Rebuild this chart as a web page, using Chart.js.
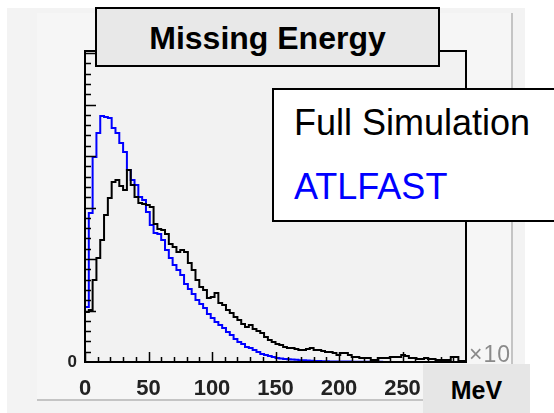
<!DOCTYPE html>
<html>
<head>
<meta charset="utf-8">
<script src="https://cdn.jsdelivr.net/npm/chart.js@4/dist/chart.umd.min.js"></script>
<style>
  body { margin: 0; background: #fff; }
  .stage { position: relative; width: 554px; height: 413px; overflow: hidden; font-family: "Liberation Sans", Arial, sans-serif; }
  .pad { position: absolute; left: 7px; top: 8px; width: 518px; height: 405px; background: #f3f3f3; }
  .inner { position: absolute; left: 37px; top: 13px; width: 474px; height: 386px; background: #f6f6f6;
           border-right: 2px solid #c4c4c4; border-bottom: 2px solid #c4c4c4; }
  canvas { position: absolute; left: 0; top: 0; }
  .title { position: absolute; left: 95px; top: 7px; width: 341px; height: 56px; background: #e8e8e8;
           border: 2px solid #000; font-weight: bold; font-size: 32px; text-align: center; line-height: 58px; }
  .legend { position: absolute; left: 272px; top: 88px; width: 290px; height: 130px; background: #fff; border: 2px solid #000; }
  .legend div { position: absolute; left: 20px; font-size: 36px; white-space: nowrap; }
  .unit { position: absolute; left: 423px; top: 364px; width: 107px; height: 49px; background: #e6e6e6;
          font-weight: bold; font-size: 25px; text-align: center; line-height: 52px; }
  .mult { position: absolute; left: 469px; top: 341px; font-size: 23px; color: #8a8a8a; letter-spacing: 1px; }
</style>
</head>
<body>
<div class="stage">
  <div class="pad"></div>
  <div class="inner"></div>
  <canvas id="chart" width="554" height="413"></canvas>
  <div class="title">Missing Energy</div>
  <div class="legend">
    <div style="top:12px;color:#000">Full Simulation</div>
    <div style="top:76px;color:#0000ff">ATLFAST</div>
  </div>
  <div class="mult">×10</div>
  <div class="unit">MeV</div>
</div>
<script>
// histogram: 100 bins of 3 (x10 MeV) from 0 to 300
const binWidth = 3;
const xTicks = [0, 50, 100, 150, 200, 250];

// Full Simulation (black)
const fullSim = [
  486, 505, 796, 1010, 1185, 1427, 1592, 1748, 1767, 1709,
  1670, 1864, 1719, 1602, 1544, 1534, 1524, 1505, 1340, 1291,
  1282, 1243, 1146, 1117, 1068, 1088, 1068, 961, 893, 796,
  728, 699, 621, 631, 670, 573, 553, 505, 476, 437,
  408, 369, 340, 359, 320, 301, 282, 243, 214, 194,
  175, 165, 146, 136, 136, 126, 117, 117, 126, 136,
  117, 117, 107, 97, 97, 87, 68, 87, 87, 68,
  49, 49, 39, 39, 39, 19, 19, 39, 39, 39,
  49, 49, 49, 68, 58, 39, 39, 29, 29, 39,
  29, 29, 19, 19, 19, 19, 49, 49, 10, 10
];

// ATLFAST (blue)
const atlfast = [
  534, 1447, 1990, 2224, 2389, 2379, 2369, 2272, 2224, 2126,
  2039, 1864, 1767, 1719, 1602, 1573, 1457, 1330, 1253, 1243,
  1185, 1088, 1010, 942, 893, 845, 757, 709, 660, 602,
  563, 524, 466, 427, 388, 359, 330, 291, 262, 223,
  194, 175, 146, 136, 117, 97, 78, 68, 58, 49,
  39, 34, 30, 27, 24, 21, 18, 16, 14, 12,
  10, 9, 8, 7, 6, 6, 5, 5, 4, 4,
  3, 3, 3, 2, 2, 2, 2, 2, 1, 1,
  1, 1, 1, 1, 1, 1, 1, 1, 0, 0,
  0, 0, 0, 0, 0, 0, 0, 0, 0, 0
];

// left bin edges plus closing point, drawn as steps
function toSteps(values) {
  const pts = [{ x: 0, y: 0 }];
  values.forEach((v, i) => pts.push({ x: i * binWidth, y: v }));
  pts.push({ x: values.length * binWidth, y: values[values.length - 1] });
  return pts;
}

// ROOT-like frame with inward ticks
const rootFrame = {
  id: "rootFrame",
  beforeDraw(chart) {
    const a = chart.chartArea, ctx = chart.ctx;
    ctx.save();
    ctx.fillStyle = "#f2f2f2";
    ctx.fillRect(a.left, a.top, a.right - a.left, a.bottom - a.top);
    ctx.restore();
  },
  afterDraw(chart) {
    const a = chart.chartArea, ctx = chart.ctx;
    const xs = chart.scales.x, ys = chart.scales.y;
    ctx.save();
    ctx.strokeStyle = "#000";
    ctx.lineWidth = 2;
    ctx.strokeRect(a.left, a.top, a.right - a.left, a.bottom - a.top);
    ctx.lineWidth = 1.5;
    ctx.beginPath();
    for (let v = 0; v < 300; v += 10) {
      const px = Math.round(xs.getPixelForValue(v)) + 0.5;
      const len = v % 50 === 0 ? 10 : 5;
      ctx.moveTo(px, a.bottom);
      ctx.lineTo(px, a.bottom - len);
    }
    for (let v = 100; v <= ys.max; v += 100) {
      const py = Math.round(ys.getPixelForValue(v)) + 0.5;
      const len = v % 500 === 0 ? 11 : 6;
      ctx.moveTo(a.left, py);
      ctx.lineTo(a.left + len, py);
    }
    ctx.stroke();
    ctx.restore();
  }
};

new Chart(document.getElementById("chart"), {
  type: "line",
  data: {
    datasets: [
      {
        label: "Full Simulation",
        data: toSteps(fullSim),
        borderColor: "#000000",
        borderWidth: 2,
        stepped: true,
        pointRadius: 0,
        fill: false,
      },
      {
        label: "ATLFAST",
        data: toSteps(atlfast),
        borderColor: "#0000ff",
        borderWidth: 2,
        stepped: true,
        pointRadius: 0,
        fill: false,
      },
    ],
  },
  options: {
    responsive: false,
    animation: false,
    layout: { padding: { top: 51, right: 88, left: 0, bottom: 0 } },
    plugins: {
      legend: { display: false },
      tooltip: { enabled: false },
    },
    scales: {
      x: {
        type: "linear",
        min: 0,
        max: 300,
        afterBuildTicks: (s) => { s.ticks = xTicks.map((v) => ({ value: v })); },
        afterFit: (s) => { s.height = 51; },
        grid: { display: false },
        border: { display: false },
        ticks: {
          color: "#222",
          padding: 6,
          maxRotation: 0,
          font: { family: "Liberation Sans", size: 22, weight: "bold" },
        },
      },
      y: {
        min: 0,
        max: 3020,
        afterBuildTicks: (s) => { s.ticks = [{ value: 0 }]; },
        afterFit: (s) => { s.width = 85; },
        grid: { display: false, drawTicks: false },
        border: { display: false },
        ticks: {
          color: "#222",
          padding: 8,
          font: { family: "Liberation Sans", size: 17, weight: "bold" },
        },
      },
    },
  },
  plugins: [rootFrame],
});
</script>
</body>
</html>
